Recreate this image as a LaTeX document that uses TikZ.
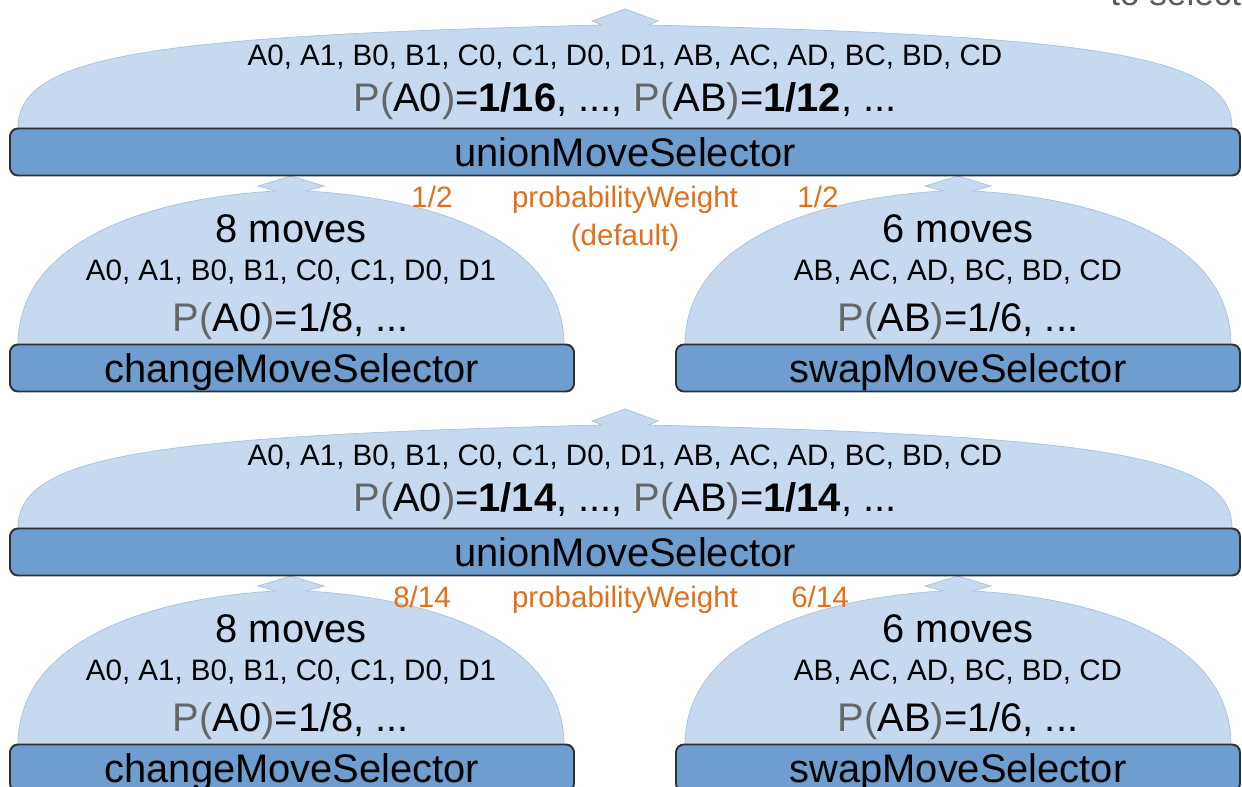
\documentclass[tikz,border=0pt]{standalone}
\usepackage{fontspec}
\setmainfont{Liberation Sans}
\usetikzlibrary{positioning}

\definecolor{domeblue}{HTML}{C6D9EE}
\definecolor{domeedge}{HTML}{A9C2DF}
\definecolor{barblue}{HTML}{6E9ECF}
\definecolor{barline}{HTML}{2B2F36}
\definecolor{weightorange}{HTML}{DF701C}
\definecolor{pgray}{HTML}{666666}

\newcommand{\bigfont}{\fontsize{22.7}{27}\selectfont}
\newcommand{\smallfont}{\fontsize{16.8}{20}\selectfont}
\newcommand{\probof}[1]{\textcolor{pgray}{P(}#1\textcolor{pgray}{)}}

% dome of a union selector, #1 = y shift (px)
\newcommand{\unionDome}[1]{%
  \path[dome, shift={(0,#1)}] (18,128) .. controls (18,55) and (150,36) .. (602,25)
    -- (592,21) -- (625,9) -- (658,21) -- (648,25)
    .. controls (1100,36) and (1232,55) .. (1232,128) -- cycle;}
% dome of a child selector, #1 = centre x, #2 = y shift (px)
\newcommand{\childDome}[2]{%
  \path[dome, shift={(#1,#2)}] (-273,345) .. controls (-273,240) and (-141,198) .. (-15,191)
    -- (-33,186) -- (0,176) -- (33,186) -- (15,191)
    .. controls (141,198) and (273,240) .. (273,345) -- cycle;}

\tikzset{
  dome/.style={fill=domeblue, draw=domeedge, line width=0.4pt},
  selector/.style={draw=barline, fill=barblue, line width=1.1pt, rounded corners=0.16cm,
    minimum height=47*0.02cm, inner sep=0pt, font=\bigfont, text height=16.3pt, text depth=0pt},
  movelist/.style={font=\smallfont, inner sep=0pt, text height=12.1pt, text depth=0pt},
  bigline/.style={font=\bigfont, inner sep=0pt, text height=16.3pt, text depth=0pt},
  weight/.style={movelist, text=weightorange},
}

\begin{document}
\begin{tikzpicture}[x=0.02cm, y=-0.02cm]
  \useasboundingbox (0,0) rectangle (1242,787);

  % domes
  \unionDome{0}
  \unionDome{400}
  \childDome{291}{0}
  \childDome{958}{0}
  \childDome{291}{400}
  \childDome{958}{400}

  % first example: default weights
  \node[selector, minimum width=1230*0.02cm] (union1) at (625,152) {unionMoveSelector};
  \node[movelist] (union1list) at (625,55) {A0, A1, B0, B1, C0, C1, D0, D1, AB, AC, AD, BC, BD, CD};
  \node[bigline] (union1prob) at (625,97) {\probof{A0}=\textbf{1/16}, ..., \probof{AB}=\textbf{1/12}, ...};

  \node[selector, minimum width=564*0.02cm] (change1) at (292,368) {changeMoveSelector};
  \node[bigline] (change1count) at (291,228) {8 moves};
  \node[movelist] (change1list) at (291,270) {A0, A1, B0, B1, C0, C1, D0, D1};
  \node[bigline] (change1prob) at (291,317) {\probof{A0}=1/8, ...};

  \node[selector, minimum width=564*0.02cm] (swap1) at (958,368) {swapMoveSelector};
  \node[bigline] (swap1count) at (958,228) {6 moves};
  \node[movelist] (swap1list) at (958,270) {AB, AC, AD, BC, BD, CD};
  \node[bigline] (swap1prob) at (958,317) {\probof{AB}=1/6, ...};

  \node[weight] (weight1) at (625,197) {probabilityWeight};
  \node[weight, below=16*0.02cm of weight1] (weight1note) {(default)};
  \node[weight] (change1weight) at (432,197) {1/2};
  \node[weight] (swap1weight) at (818,197) {1/2};

  % second example: weights by size
  \node[selector, minimum width=1230*0.02cm] (union2) at (625,552) {unionMoveSelector};
  \node[movelist] (union2list) at (625,455) {A0, A1, B0, B1, C0, C1, D0, D1, AB, AC, AD, BC, BD, CD};
  \node[bigline] (union2prob) at (625,497) {\probof{A0}=\textbf{1/14}, ..., \probof{AB}=\textbf{1/14}, ...};

  \node[selector, minimum width=564*0.02cm] (change2) at (292,768) {changeMoveSelector};
  \node[bigline] (change2count) at (291,628) {8 moves};
  \node[movelist] (change2list) at (291,670) {A0, A1, B0, B1, C0, C1, D0, D1};
  \node[bigline] (change2prob) at (291,717) {\probof{A0}=1/8, ...};

  \node[selector, minimum width=564*0.02cm] (swap2) at (958,768) {swapMoveSelector};
  \node[bigline] (swap2count) at (958,628) {6 moves};
  \node[movelist] (swap2list) at (958,670) {AB, AC, AD, BC, BD, CD};
  \node[bigline] (swap2prob) at (958,717) {\probof{AB}=1/6, ...};

  \node[weight] (weight2) at (625,597) {probabilityWeight};
  \node[weight] (change2weight) at (422,597) {8/14};
  \node[weight] (swap2weight) at (820,597) {6/14};

  % cut-off note at the corner
  \node[anchor=base west, inner sep=0pt, font=\fontsize{20}{24}\selectfont, text=pgray!90!black]
    (cornernote) at (1110,6) {to select};
\end{tikzpicture}
\end{document}
